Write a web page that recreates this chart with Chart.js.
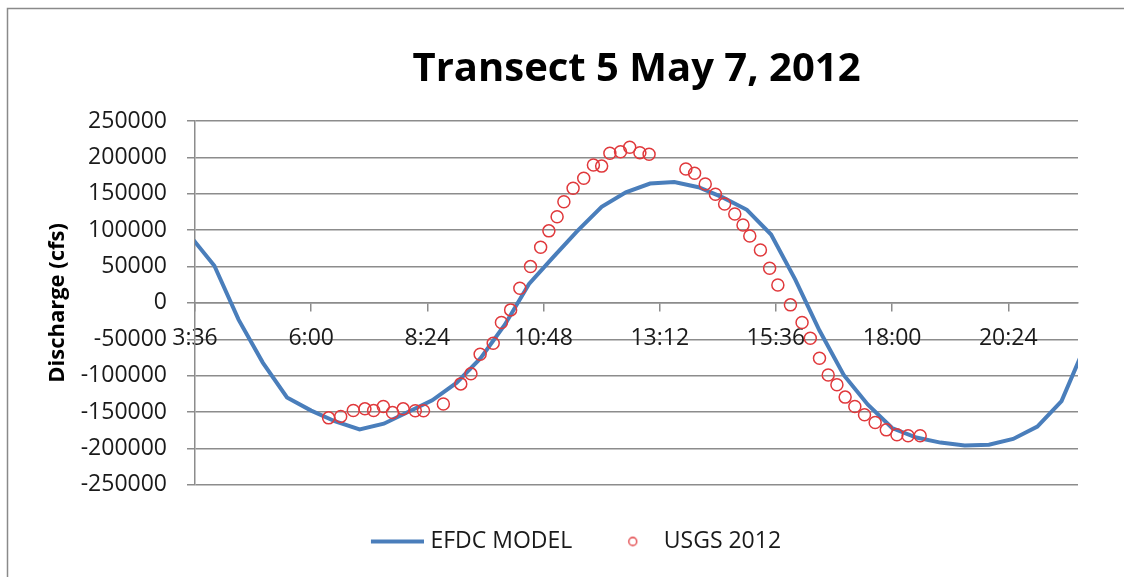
<!DOCTYPE html>
<html>
<head>
<meta charset="utf-8">
<script src="https://cdn.jsdelivr.net/npm/chart.js@4"></script>
<style>
  body { margin: 0; background: #fff; overflow: hidden; }
  canvas { display: block; }
</style>
</head>
<body>
<canvas id="flowChart" width="1124" height="577"></canvas>
<script>
// times are decimal hours on 7 May 2012, discharge in cfs
const modelHours = [3.5, 4, 4.5, 5, 5.5, 6, 6.5, 7, 7.5, 8, 8.5, 9, 9.5, 10, 10.5, 11, 11.5, 12,
  12.5, 13, 13.5, 14, 14.5, 15, 15.5, 16, 16.5, 17, 17.5, 18, 18.5, 19, 19.5, 20, 20.5, 21, 21.5, 22];
const modelQ = [92000, 51000, -23000, -82000, -130000, -148000, -163000, -174000, -166000, -150000,
  -134000, -110000, -76000, -30000, 26000, 63000, 99000, 132000, 152000, 164000, 166000, 159000,
  145000, 128000, 94000, 32000, -38000, -99000, -140000, -172000, -185000, -192000, -196000,
  -195000, -187000, -170000, -135000, -57000];

const usgsHours = [6.36, 6.61, 6.87, 7.11, 7.29, 7.49, 7.68, 7.90, 8.15, 8.32, 8.73, 9.09, 9.30,
  9.49, 9.76, 9.93, 10.12, 10.31, 10.53, 10.74, 10.91, 11.08, 11.22, 11.41, 11.63, 11.83, 12.00,
  12.17, 12.39, 12.58, 12.79, 12.98, 13.74, 13.92, 14.14, 14.35, 14.54, 14.75, 14.92, 15.06,
  15.28, 15.47, 15.64, 15.90, 16.14, 16.31, 16.50, 16.68, 16.86, 17.03, 17.23, 17.43, 17.65,
  17.88, 18.10, 18.33, 18.58];
const usgsQ = [-158000, -156000, -148000, -145600, -148000, -142400, -150700, -145600, -148300,
  -148300, -139000, -111300, -97500, -70500, -55400, -27000, -9600, 20200, 49900, 76500, 99000,
  118500, 139000, 157500, 171300, 189600, 188000, 205600, 207800, 213900, 206500, 204200, 184000,
  178100, 163500, 149300, 136000, 122200, 107100, 92000, 72800, 47700, 24700, -2700, -27000,
  -48500, -76000, -99000, -112600, -129500, -142400, -153800, -164400, -174500, -181300,
  -182700, -182700];

const tickHours = [3.6, 6, 8.4, 10.8, 13.2, 15.6, 18, 20.4];
const tickLabels = ['3:36', '6:00', '8:24', '10:48', '13:12', '15:36', '18:00', '20:24'];

const gridGray = '#8c8c8c';
const textColor = '#1a1a1a';
const fontName = "'Open Sans', sans-serif";
Chart.defaults.font.family = fontName;

// small pictures used as legend symbols
function lineSymbol() {
  const c = document.createElement('canvas');
  c.width = 66; c.height = 6;
  const g = c.getContext('2d');
  g.strokeStyle = '#4a7ebb';
  g.lineWidth = 4;
  g.beginPath(); g.moveTo(13, 3); g.lineTo(66, 3); g.stroke();
  return c;
}
function circleSymbol() {
  const c = document.createElement('canvas');
  c.width = 56; c.height = 12;
  const g = c.getContext('2d');
  g.strokeStyle = '#e0393c';
  g.lineWidth = 1.3;
  g.beginPath(); g.arc(36.5, 6, 4, 0, Math.PI * 2); g.stroke();
  return c;
}

// outer chart frame, only the top and left edges are inside the picture
const framePlugin = {
  id: 'frame',
  beforeDraw(chart) {
    const c = chart.ctx;
    c.save();
    c.fillStyle = '#fff';
    c.fillRect(0, 0, chart.width, chart.height);
    c.strokeStyle = '#8a8a8a';
    c.lineWidth = 1.5;
    c.beginPath();
    c.moveTo(7.5, chart.height);
    c.lineTo(7.5, 8.5);
    c.lineTo(chart.width, 8.5);
    c.stroke();
    c.restore();
  }
};

const ctx = document.getElementById('flowChart').getContext('2d');

new Chart(ctx, {
  type: 'scatter',
  data: {
    datasets: [{
      type: 'line',
      label: 'EFDC MODEL',
      data: modelHours.map((h, i) => ({ x: h, y: modelQ[i] })),
      borderColor: '#4a7ebb',
      backgroundColor: '#4a7ebb',
      borderWidth: 4,
      pointRadius: 0,
      tension: 0,
      fill: false,
      clip: 0,
      order: 2
    }, {
      label: 'USGS 2012',
      data: usgsHours.map((h, i) => ({ x: h, y: usgsQ[i] })),
      pointStyle: 'circle',
      pointRadius: 6,
      borderColor: '#e0393c',
      borderWidth: 1.5,
      backgroundColor: 'rgba(0,0,0,0)',
      order: 1
    }]
  },
  options: {
    responsive: false,
    animation: false,
    devicePixelRatio: 1,
    layout: { padding: { top: 10, left: 66, right: 46, bottom: 14 } },
    plugins: {
      tooltip: { enabled: false },
      title: {
        display: true,
        text: 'Transect 5 May 7, 2012',
        fullSize: false,
        color: '#000',
        font: { size: 40, weight: 'bold' },
        padding: { top: 36, bottom: 27 }
      },
      legend: {
        position: 'bottom',
        title: { display: true, text: '', font: { size: 1 }, padding: { top: 20, bottom: 0 } },
        labels: {
          color: textColor,
          font: { size: 23 },
          padding: 24,
          usePointStyle: true,
          pointStyleWidth: 56,
          generateLabels(chart) {
            const items = Chart.defaults.plugins.legend.labels.generateLabels(chart);
            items.sort((a, b) => a.datasetIndex - b.datasetIndex);
            items[0].pointStyle = lineSymbol();
            items[1].pointStyle = circleSymbol();
            return items;
          }
        }
      }
    },
    scales: {
      x: {
        type: 'linear',
        min: 3.6,
        max: 21.84,
        position: { y: 0 },
        afterBuildTicks(scale) {
          scale.ticks = tickHours.map(v => ({ value: v }));
        },
        ticks: {
          autoSkip: false,
          maxRotation: 0,
          padding: 14,
          color: textColor,
          font: { size: 23 },
          callback: (value, index) => tickLabels[index]
        },
        grid: { drawOnChartArea: false, drawTicks: true, tickLength: 8, color: gridGray, lineWidth: 1.5 },
        border: { display: true, color: gridGray, width: 1.5 }
      },
      y: {
        min: -250000,
        max: 250000,
        afterFit(scale) { scale.width = 129; },
        ticks: {
          stepSize: 50000,
          padding: 20,
          color: textColor,
          font: { size: 23 },
          callback: value => String(value)
        },
        grid: { color: gridGray, lineWidth: 1.5, tickLength: 8 },
        border: { color: gridGray, width: 1.5 },
        title: {
          display: true,
          text: 'Discharge (cfs)',
          color: '#000',
          font: { size: 22, weight: 'bold' },
          padding: { top: -21, bottom: 0 }
        }
      }
    }
  },
  plugins: [framePlugin]
});
</script>
</body>
</html>
